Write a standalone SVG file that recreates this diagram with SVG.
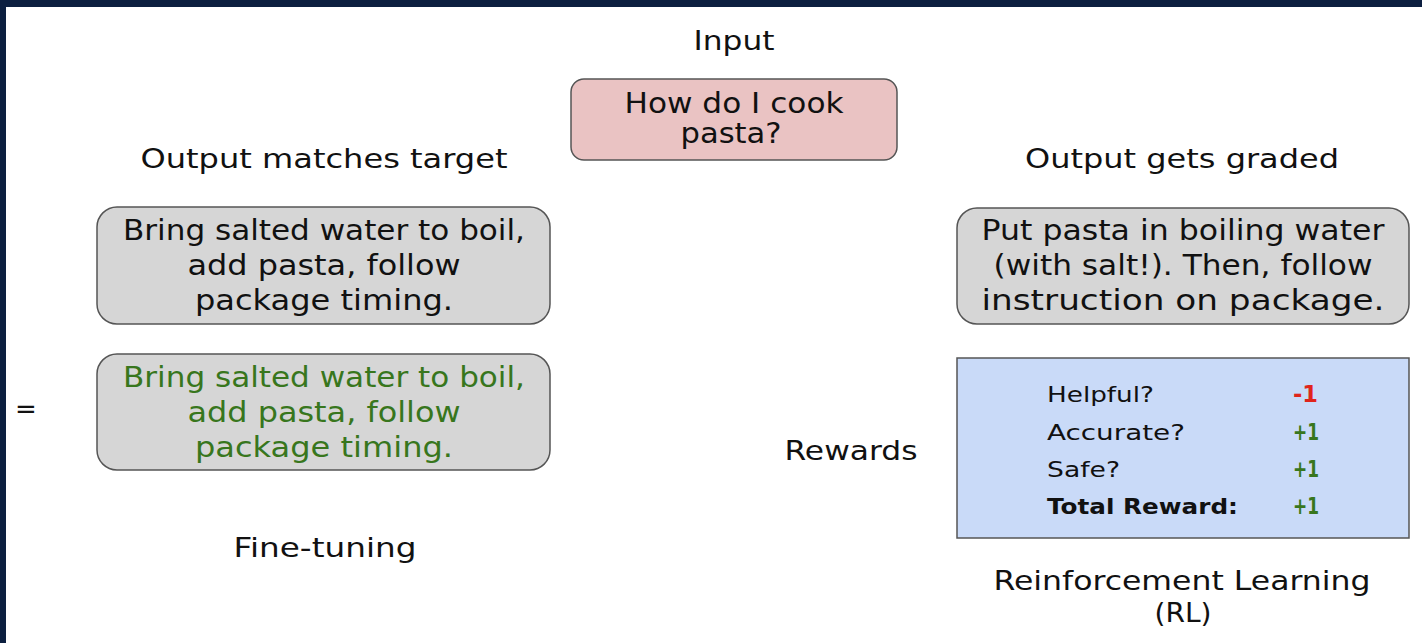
<svg xmlns="http://www.w3.org/2000/svg" width="1422" height="643" viewBox="0 0 1422 643">
<style>
text{font-family:"DejaVu Sans","Open Sans",sans-serif;fill:#111;}
.lbl{font-size:27px;text-anchor:middle;}
.box{font-size:27.5px;text-anchor:middle;}
.grn{fill:#38761d;}
.row{font-size:22px;}
.val{font-size:23px;font-weight:bold;}
.gbox{fill:#d6d6d6;stroke:#555;stroke-width:1.5;}
</style>
<rect x="0" y="0" width="1422" height="643" fill="#ffffff"/>
<rect x="0" y="0" width="1422" height="7" fill="#0c1f40"/>
<rect x="0" y="0" width="6" height="643" fill="#0c1f40"/>

<g id="input">
<text class="lbl" x="734" y="50" textLength="81" lengthAdjust="spacingAndGlyphs">Input</text>
<rect x="571" y="79" width="326" height="81" rx="13" fill="#eac3c3" stroke="#555" stroke-width="1.5"/>
<text class="box" x="734" y="113" textLength="219" lengthAdjust="spacingAndGlyphs">How do I cook</text>
<text class="box" x="731" y="143" textLength="101" lengthAdjust="spacingAndGlyphs">pasta?</text>
</g>

<g id="finetune">
<text class="lbl" x="324" y="168" textLength="367" lengthAdjust="spacingAndGlyphs">Output matches target</text>
<rect class="gbox" x="97" y="207" width="453" height="117" rx="20"/>
<text class="box" x="324" y="240" textLength="402" lengthAdjust="spacingAndGlyphs">Bring salted water to boil,</text>
<text class="box" x="324" y="275" textLength="273" lengthAdjust="spacingAndGlyphs">add pasta, follow</text>
<text class="box" x="324" y="310" textLength="258" lengthAdjust="spacingAndGlyphs">package timing.</text>
<text x="26" y="418" font-size="26" text-anchor="middle">=</text>
<rect class="gbox" x="97" y="354" width="453" height="116" rx="20"/>
<text class="box grn" x="324" y="387" textLength="402" lengthAdjust="spacingAndGlyphs">Bring salted water to boil,</text>
<text class="box grn" x="324" y="422" textLength="273" lengthAdjust="spacingAndGlyphs">add pasta, follow</text>
<text class="box grn" x="324" y="457" textLength="258" lengthAdjust="spacingAndGlyphs">package timing.</text>
<text class="lbl" x="325" y="557" textLength="183" lengthAdjust="spacingAndGlyphs">Fine-tuning</text>
</g>

<g id="rl">
<text class="lbl" x="1182" y="168" textLength="314" lengthAdjust="spacingAndGlyphs">Output gets graded</text>
<rect class="gbox" x="957" y="208" width="452" height="116" rx="20"/>
<text class="box" x="1183" y="240" textLength="403" lengthAdjust="spacingAndGlyphs">Put pasta in boiling water</text>
<text class="box" x="1183" y="275" textLength="379" lengthAdjust="spacingAndGlyphs">(with salt!). Then, follow</text>
<text class="box" x="1183" y="310" textLength="403" lengthAdjust="spacingAndGlyphs">instruction on package.</text>
<text class="lbl" x="851" y="460" textLength="133" lengthAdjust="spacingAndGlyphs">Rewards</text>
<rect x="957" y="358" width="452" height="180" fill="#c9daf8" stroke="#555" stroke-width="1.5"/>
<text class="row" x="1047" y="402" textLength="107" lengthAdjust="spacingAndGlyphs">Helpful?</text>
<text class="row" x="1047" y="440" textLength="138" lengthAdjust="spacingAndGlyphs">Accurate?</text>
<text class="row" x="1047" y="477" textLength="73" lengthAdjust="spacingAndGlyphs">Safe?</text>
<text class="row" x="1047" y="514" font-weight="bold" textLength="191" lengthAdjust="spacingAndGlyphs">Total Reward:</text>
<text class="val" x="1293" y="402" style="fill:#e0241b" textLength="25" lengthAdjust="spacingAndGlyphs">-1</text>
<text class="val grn" x="1293" y="440" textLength="26" lengthAdjust="spacingAndGlyphs">+1</text>
<text class="val grn" x="1293" y="477" textLength="26" lengthAdjust="spacingAndGlyphs">+1</text>
<text class="val grn" x="1293" y="514" textLength="26" lengthAdjust="spacingAndGlyphs">+1</text>
<text class="lbl" x="1182" y="590" textLength="377" lengthAdjust="spacingAndGlyphs">Reinforcement Learning</text>
<text class="lbl" x="1183" y="622" textLength="57" lengthAdjust="spacingAndGlyphs">(RL)</text>
</g>
<g id="connectors"></g>
</svg>
